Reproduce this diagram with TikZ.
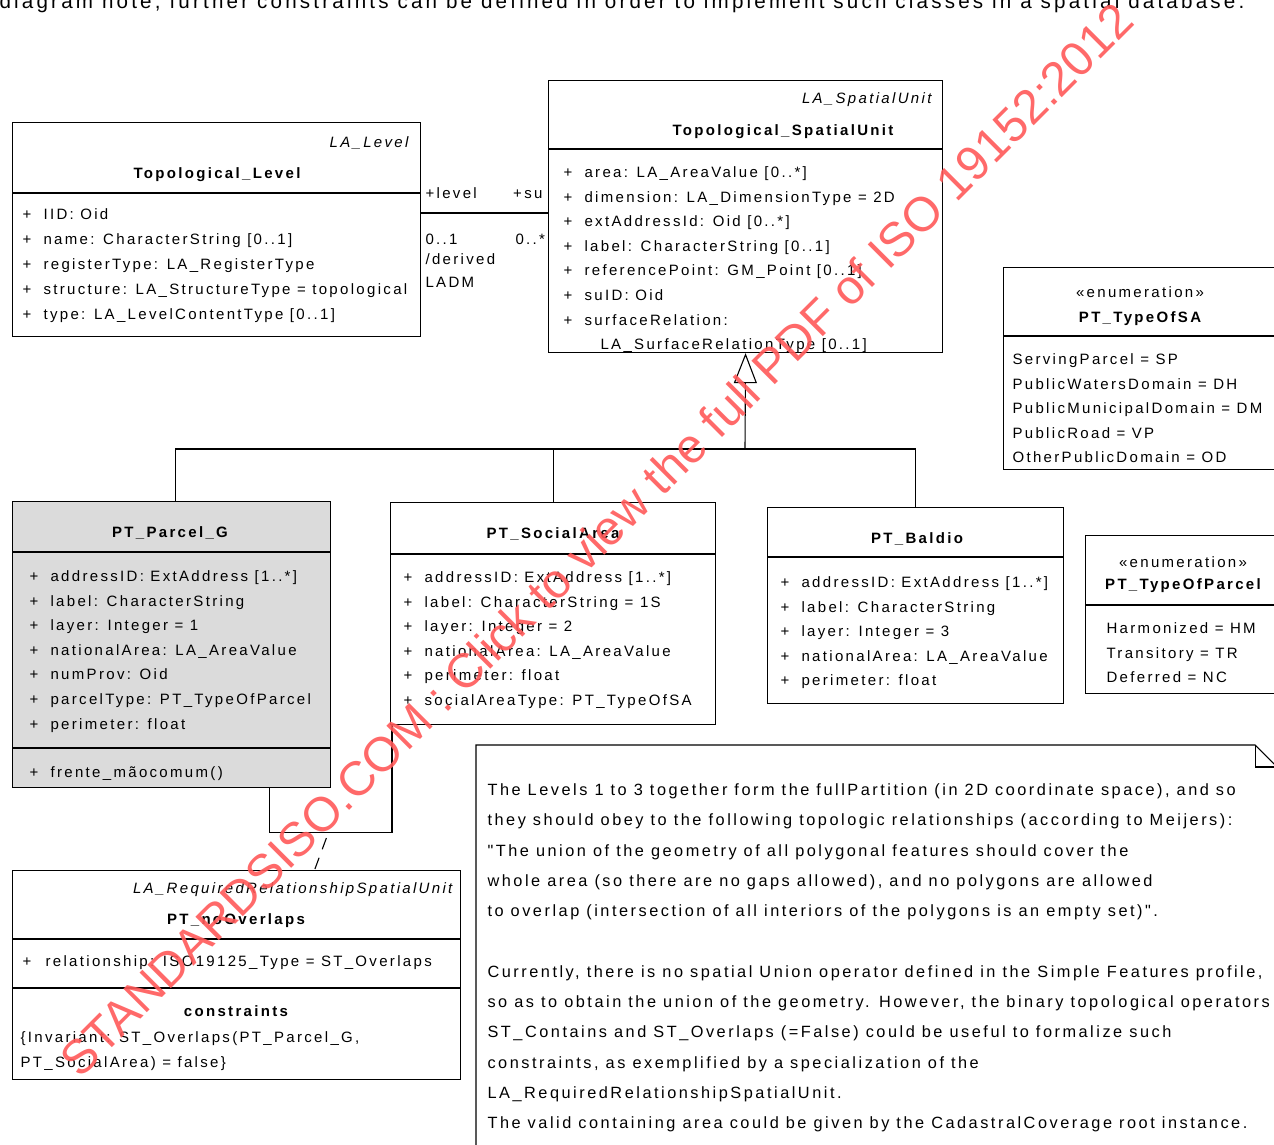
\documentclass[tikz,border=0pt]{standalone}
\usepackage{fontspec}
\setmainfont{Liberation Sans}[LetterSpace=15.5,Ligatures=TeXOff]
\newfontfamily\stampfont{Liberation Sans}
\usetikzlibrary{positioning}
\usetikzlibrary{arrows.meta}
\newcommand\umlfont{\fontsize{15}{24.6}\selectfont}
\newcommand\vis{\strut\makebox[21pt][l]{+}}

\begin{document}
\begin{tikzpicture}[x=1pt,y=-1pt,line width=1.1pt,
  cls/.style={draw,anchor=north west,inner sep=0pt},
  rows/.style={anchor=north west,inner sep=0pt,align=left,font=\umlfont},
  cname/.style={anchor=base,inner sep=0pt,font=\umlfont\bfseries},
  stereo/.style={anchor=base east,inner sep=0pt,font=\umlfont\itshape},
  enumtag/.style={anchor=base,inner sep=0pt,font=\umlfont},
  role/.style={anchor=base west,inner sep=0pt,font=\umlfont}]
\useasboundingbox (0,0) rectangle (1274,1144);
\clip (0,0) rectangle (1274,1144);

\node[anchor=base west,inner sep=0pt,font=\fontsize{20.6}{20.6}\selectfont] (caption) at (-1,8)
  {diagram note, further constraints can be defined in order to implement such classes in a spatial database.};

% class boxes
\node[cls,minimum width=408pt,minimum height=214pt] (lvl) at (12,122) {};
\node[cls,minimum width=394pt,minimum height=272pt] (su) at (548,80) {};
\node[cls,fill=gray!28,minimum width=318pt,minimum height=286pt] (parcel) at (12,501) {};
\node[cls,minimum width=325pt,minimum height=222pt] (social) at (390,502) {};
\node[cls,minimum width=296pt,minimum height=196pt] (baldio) at (767,507) {};
\node[cls,minimum width=274pt,minimum height=202pt] (typesa) at (1003,267) {};
\node[cls,minimum width=196pt,minimum height=158pt] (typeparcel) at (1085,535) {};
\node[cls,minimum width=448pt,minimum height=209pt] (overlaps) at (12,870) {};

% compartments
\draw ([yshift=-71pt]lvl.north west) -- ([yshift=-71pt]lvl.north east);
\draw ([yshift=-69pt]su.north west) -- ([yshift=-69pt]su.north east);
\draw ([yshift=-51pt]parcel.north west) -- ([yshift=-51pt]parcel.north east);
\draw ([yshift=-247pt]parcel.north west) -- ([yshift=-247pt]parcel.north east);
\draw ([yshift=-52pt]social.north west) -- ([yshift=-52pt]social.north east);
\draw ([yshift=-50pt]baldio.north west) -- ([yshift=-50pt]baldio.north east);
\draw ([yshift=-69pt]typesa.north west) -- ([yshift=-69pt]typesa.north east);
\draw ([yshift=-70pt]typeparcel.north west) -- ([yshift=-70pt]typeparcel.north east);
\draw ([yshift=-69pt]overlaps.north west) -- ([yshift=-69pt]overlaps.north east);
\draw ([yshift=-118pt]overlaps.north west) -- ([yshift=-118pt]overlaps.north east);

% Topological_Level
\node[stereo] (lvlstereo) at (409,147) {LA\_Level};
\node[cname] (lvlname) at (217,178) {Topological\_Level};
\node[rows,font=\fontsize{15}{25}\selectfont] (lvlattr) at (22,201.5)
  {\vis IID: Oid\\ \vis name: CharacterString [0..1]\\ \vis registerType: LA\_RegisterType\\
   \vis structure: LA\_StructureType = topological\\ \vis type: LA\_LevelContentType [0..1]};

% Topological_SpatialUnit
\node[stereo] (sustereo) at (932,103) {LA\_SpatialUnit};
\node[cname] (suname) at (783,135) {Topological\_SpatialUnit};
\node[rows] (suattr) at (563,159.8)
  {\vis area: LA\_AreaValue [0..*]\\ \vis dimension: LA\_DimensionType = 2D\\ \vis extAddressId: Oid [0..*]\\
   \vis label: CharacterString [0..1]\\ \vis referencePoint: GM\_Point [0..1]\\ \vis suID: Oid\\
   \vis surfaceRelation:\\ \strut\hspace*{37pt}LA\_SurfaceRelationType [0..1]};

% PT_Parcel_G
\node[cname] (parcelname) at (170,537) {PT\_Parcel\_G};
\node[rows] (parcelattr) at (29,563.8)
  {\vis addressID: ExtAddress [1..*]\\ \vis label: CharacterString\\ \vis layer: Integer = 1\\
   \vis nationalArea: LA\_AreaValue\\ \vis numProv: Oid\\ \vis parcelType: PT\_TypeOfParcel\\ \vis perimeter: float};
\node[rows] (parcelop) at (29,759.8) {\vis frente\_mãocomum()};

% PT_SocialArea
\node[cname] (socialname) at (553,538) {PT\_SocialArea};
\node[rows] (socialattr) at (403,564.8)
  {\vis addressID: ExtAddress [1..*]\\ \vis label: CharacterString = 1S\\ \vis layer: Integer = 2\\
   \vis nationalArea: LA\_AreaValue\\ \vis perimeter: float\\ \vis socialAreaType: PT\_TypeOfSA};

% PT_Baldio
\node[cname] (baldioname) at (917,543) {PT\_Baldio};
\node[rows] (baldioattr) at (780,569.8)
  {\vis addressID: ExtAddress [1..*]\\ \vis label: CharacterString\\ \vis layer: Integer = 3\\
   \vis nationalArea: LA\_AreaValue\\ \vis perimeter: float};

% enumerations
\node[enumtag] (typesatag) at (1140,297) {«enumeration»};
\node[cname] (typesaname) at (1140,322) {PT\_TypeOfSA};
\node[rows] (typesaitems) at (1012,346.8)
  {\strut ServingParcel = SP\\ PublicWatersDomain = DH\\ PublicMunicipalDomain = DM\\ PublicRoad = VP\\ OtherPublicDomain = OD};
\node[enumtag] (typeparceltag) at (1183,567) {«enumeration»};
\node[cname] (typeparcelname) at (1183,589) {PT\_TypeOfParcel};
\node[rows] (typeparcelitems) at (1106,615.8) {\strut Harmonized = HM\\ Transitory = TR\\ Deferred = NC};

% PT_noOverlaps
\node[stereo] (overlapsstereo) at (453,893) {LA\_RequiredRelationshipSpatialUnit};
\node[cname] (overlapsname) at (236,924) {PT\_noOverlaps};
\node[rows] (overlapsattr) at (22,948.8) {\strut\makebox[23pt][l]{+}relationship: ISO19125\_Type = ST\_Overlaps};
\node[cname] (constrname) at (236,1016) {constraints};
\node[rows] (constr) at (20,1024.8) {\strut\{Invariant: ST\_Overlaps(PT\_Parcel\_G,\\ PT\_SocialArea) = false\}};

% note
\node[anchor=north west,inner sep=0pt,minimum width=800pt,minimum height=410pt] (note) at (476,745) {};
\draw (note.south west) -- (note.north west) -- ([xshift=-22pt]note.north east)
  -- ([yshift=-22pt]note.north east) -- (note.south east);
\draw ([xshift=-22pt]note.north east) |- ([yshift=-22pt]note.north east);
\node[rows,font=\fontsize{16.3}{30.3}\selectfont] (notetext) at (487,773.8)
  {\strut The Levels 1 to 3 together form the fullPartition (in 2D coordinate space), and so\\
   they should obey to the following topologic relationships (according to Meijers):\\
   "The union of the geometry of all polygonal features should cover the\\
   whole area (so there are no gaps allowed), and no polygons are allowed\\
   to overlap (intersection of all interiors of the polygons is an empty set)".\\
   \\
   Currently, there is no spatial Union operator defined in the Simple Features profile,\\
   so as to obtain the union of the geometry. However, the binary topological operators\\
   ST\_Contains and ST\_Overlaps (=False) could be useful to formalize such\\
   constraints, as exemplified by a specialization of the\\
   LA\_RequiredRelationshipSpatialUnit.\\
   The valid containing area could be given by the CadastralCoverage root instance.};

% association
\draw ([yshift=-91pt]lvl.north east) -- ([yshift=-133pt]su.north west);
\node[role] (lvlrole) at (425,198) {+level};
\node[role,anchor=base east] (surole) at (543,198) {+su};
\node[role] (lvlmult) at (425,244) {0..1};
\node[role] (sumult) at (515,244) {0..*};
\node[role] (derived) at (425,264) {/derived};
\node[role] (ladm) at (425,287) {LADM};

% generalization
\coordinate (fork) at (745,449);
\draw[-{Triangle[open,length=30pt,width=23pt]}] (fork) -- (su.south);
\draw ([xshift=4pt]parcel.north) |- (fork) -| (baldio.north);
\draw (social.north) -- (social.north |- fork);

% association class
\draw ([xshift=98pt]parcel.south) |- ([xshift=2pt,yshift=-107pt]social.south west) -- ([xshift=2pt]social.south west);
\coordinate (link) at (329,831);
\draw[dash pattern=on 12pt off 9pt,dash phase=13.5pt] (link) -- ([xshift=78pt]overlaps.north);

% stamp
\node[anchor=base west,rotate=45,inner sep=0pt,text=red!65,opacity=0.9,font=\stampfont\fontsize{48.2}{48.2}\selectfont]
  (stamp) at (80,1080) {STANDARDSISO.COM : Click to view the full PDF of ISO 19152:2012};
\end{tikzpicture}
\end{document}
